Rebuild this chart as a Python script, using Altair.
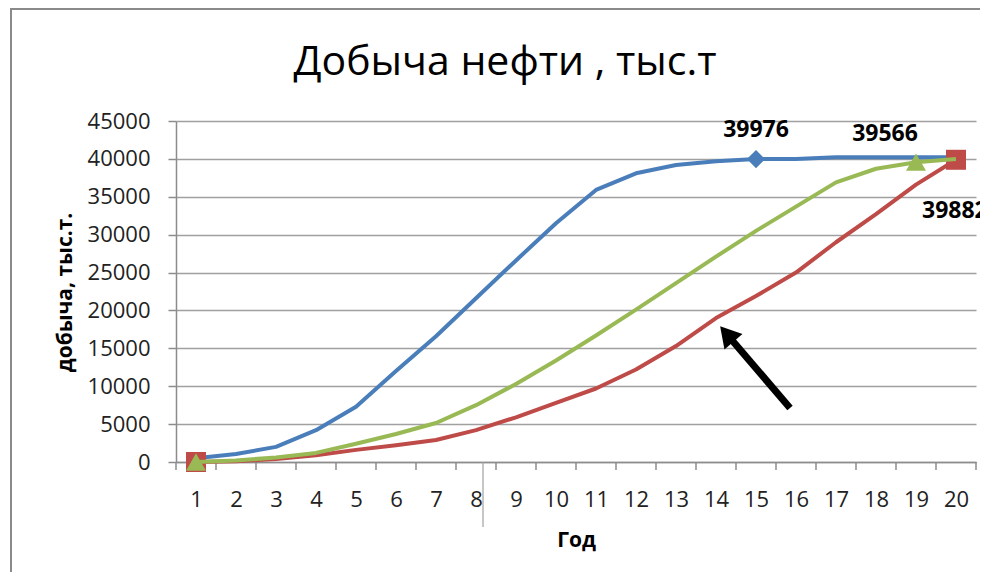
import altair as alt
import pandas as pd

# ---------------- data ----------------
years = list(range(1, 21))
series_names = ["Ряд1", "Ряд2", "Ряд3"]
blue_vals = [500, 1050, 2000, 4200, 7300, 12000, 16600, 21600, 26600, 31500,
             35900, 38100, 39200, 39700, 39976, 40000, 40200, 40200, 40200, 40200]
red_vals = [0, 100, 400, 900, 1600, 2200, 2900, 4200, 5900, 7800,
            9700, 12200, 15300, 19000, 21900, 25000, 29000, 32700, 36600, 39882]
green_vals = [0, 200, 600, 1200, 2400, 3700, 5150, 7500, 10300, 13400,
              16700, 20100, 23600, 27100, 30500, 33700, 36900, 38700, 39566, 40000]
series_colors = ["#4A7EBB", "#BE4B48", "#98B954"]
series_shapes = ["diamond", "square", "triangle-up"]
series_marker_sizes = [330, 400, 400]
marker_years = [[15], [1, 20], [1, 19]]
label_years = [[15], [20], [19]]

x_ticks_between = [0.5 + i for i in range(21)]
y_ticks = [0, 5000, 10000, 15000, 20000, 25000, 30000, 35000, 40000, 45000]
odd_line_x = [8.175]

arrow_tail_x, arrow_tail_y = [15.85], [7130]
arrow_end_x, arrow_end_y = [14.38], [16200]
arrow_head_x, arrow_head_y = [14.27], [16900]

title_text = "Добыча нефти , тыс.т"
x_title = "Год"
y_title = "добыча, тыс.т."

FONT = "Open Sans"
GRAY = "#8c8c8c"
W, H = 800, 341

# ---------------- scales / axes ----------------
xs = alt.Scale(domain=[0.5, 20.5], nice=False, zero=False)
ys = alt.Scale(domain=[0, 45000], nice=False, zero=True)

xaxis = alt.Axis(values=years, format="d", title=x_title, ticks=False, tickSize=0,
                 grid=False, domainColor=GRAY, domainWidth=1.5,
                 labelFont=FONT, labelFontSize=22, labelColor="#222222",
                 labelPadding=27, labelFlush=False, labelOverlap=False,
                 titleFont=FONT, titleFontSize=21, titleFontWeight="bold",
                 titleColor="#000000", titleX=400, titleY=78,
                 titleBaseline="middle", titleAlign="center")
yaxis = alt.Axis(values=y_ticks, format="d", title=y_title, ticks=True,
                 tickSize=8, tickColor=GRAY, tickWidth=1.5,
                 grid=True, gridColor="#a0a0a0", gridWidth=1.5,
                 domainColor=GRAY, domainWidth=1.5,
                 labelFont=FONT, labelFontSize=22, labelColor="#222222",
                 labelPadding=18, labelFlush=False, labelOverlap=False,
                 titleFont=FONT, titleFontSize=21, titleFontWeight="bold",
                 titleColor="#000000", titleAngle=270, titleX=-111, titleY=171,
                 titleBaseline="middle", titleAlign="center")

def X(field):
    return alt.X(field, type="quantitative", scale=xs, axis=xaxis)

def Y(field):
    return alt.Y(field, type="quantitative", scale=ys, axis=yaxis)

all_vals = [blue_vals, red_vals, green_vals]
layers = []

# x tick marks between categories
ticks_df = pd.DataFrame({"pos": x_ticks_between})
layers.append(alt.Chart(ticks_df).mark_rule(color=GRAY, strokeWidth=1.5).encode(
    x=X("pos"), y=alt.value(H), y2=alt.value(H + 8)))
odd_df = pd.DataFrame({"pos": odd_line_x})
layers.append(alt.Chart(odd_df).mark_rule(color="#a0a0a0", strokeWidth=1.2).encode(
    x=X("pos"), y=alt.value(H), y2=alt.value(H + 65)))

# series
for name, vals, col, shp, sz, my in zip(series_names, all_vals, series_colors,
                                         series_shapes, series_marker_sizes, marker_years):
    d = pd.DataFrame({"year": years, "value": vals, "series": name})
    layers.append(alt.Chart(d).mark_line(color=col, strokeWidth=4, strokeJoin="round").encode(
        x=X("year"), y=Y("value")))
    md = d[d["year"].isin(my)]
    layers.append(alt.Chart(md).mark_point(shape=shp, size=sz, filled=True, color=col,
                                           opacity=1, strokeWidth=0).encode(
        x=X("year"), y=Y("value")))

# data labels
label_styles = [dict(align="center", dx=0, dy=-22),
                dict(align="left", dx=-34, dy=58),
                dict(align="center", dx=-31, dy=-21)]
for vals, ly, st in zip([blue_vals, red_vals, green_vals], label_years, label_styles):
    d = pd.DataFrame({"year": years, "value": vals})
    d = d[d["year"].isin(ly)]
    layers.append(alt.Chart(d).mark_text(font=FONT, fontSize=23, fontWeight="bold",
                                         color="#000000", baseline="alphabetic", **st).encode(
        x=X("year"), y=Y("value"), text=alt.Text("value:Q", format="d")))

# arrow annotation
arrow_df = pd.DataFrame({"x": arrow_tail_x, "y": arrow_tail_y,
                         "x2": arrow_end_x, "y2": arrow_end_y})
layers.append(alt.Chart(arrow_df).mark_rule(color="#000000", strokeWidth=7, strokeCap="butt").encode(
    x=X("x"), y=Y("y"), x2="x2", y2="y2"))
head_df = pd.DataFrame({"x": arrow_head_x, "y": arrow_head_y})
layers.append(alt.Chart(head_df).mark_point(shape="triangle-up", size=560, filled=True,
                                            color="#000000", opacity=1, angle=319.5,
                                            strokeWidth=0).encode(
    x=X("x"), y=Y("y")))

# chart title (text) and outer frame
title_df = pd.DataFrame({"t": [title_text]})
layers.append(alt.Chart(title_df).mark_text(font=FONT, fontSize=41, color="#000000",
                                             align="center", baseline="alphabetic").encode(
    text="t:N", x=alt.value(329), y=alt.value(-46)))
frame_df = pd.DataFrame({"f": [1]})
layers.append(alt.Chart(frame_df).mark_rect(fill=None, fillOpacity=0, stroke="#8a8a8a",
                                            strokeWidth=2).encode(
    x=alt.value(-165), y=alt.value(-112), x2=alt.value(1200), y2=alt.value(1000)))

chart = alt.layer(*layers).properties(
    width=W, height=H,
    autosize=alt.AutoSizeParams(type="none"),
    padding={"left": 168, "top": 113, "right": 4, "bottom": 110},
    background="white",
).configure_view(stroke=None)

chart.save("out.html", embed_options={"renderer": "svg", "actions": False})
